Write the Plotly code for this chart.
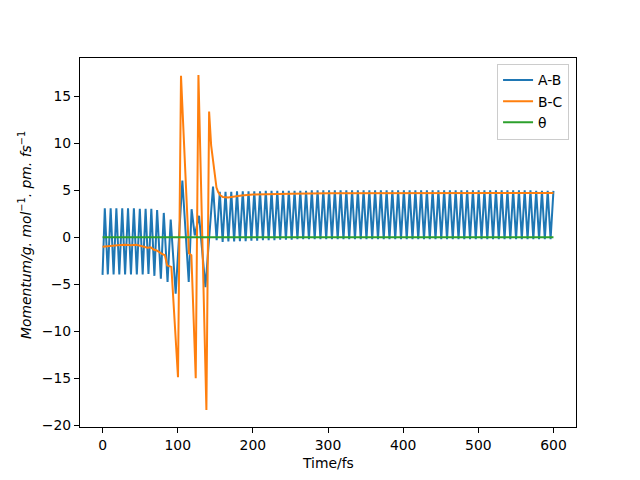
import numpy as np
import plotly.graph_objects as go

# A-B momentum: turning points up to ~156 fs (irregular spacing around the collision)
ab_t_early = [0, 3.0, 7.0, 10.8, 14.7, 18.4, 22.3, 26.2, 30.0, 33.9, 37.8, 41.7,
              45.6, 49.6, 53.4, 57.3, 61.1, 64.9, 69.0, 72.6, 77.6, 81.5, 86.5, 90.7,
              97.3, 106.2, 114.7, 118.5, 122.7, 128.4, 136.9, 147.0, 151.8, 156.0]
ab_v_early = [-4.0, 3.1, -3.95, 3.1, -3.95, 3.1, -3.95, 3.1, -3.95, 3.1, -3.95, 3.1,
              -3.95, 3.05, -3.95, 3.05, -3.9, 3.05, -4.1, 2.9, -4.4, 2.6, -4.75, 1.9,
              -6.0, 6.05, -4.75, 3.0, 0.2, 2.3, -5.3, 5.4, -0.3, 4.85]

# A-B after the collision: alternating trough / peak values, evenly spaced in time
ab_late_start = 159.8
ab_late_end = 600.0
ab_v_late = [
    -0.5, 4.85, -0.45, 4.85, -0.45, 4.9, -0.4, 4.9, -0.4, 4.9, -0.35, 4.9,
    -0.35, 4.9, -0.3, 4.95, -0.3, 4.95, -0.3, 4.95, -0.25, 4.95, -0.25, 4.95,
    -0.25, 4.95, -0.2, 4.95, -0.2, 4.95, -0.2, 5.0, -0.2, 5.0, -0.2, 5.0,
    -0.2, 5.0, -0.2, 5.0, -0.2, 5.0, -0.2, 5.0, -0.2, 5.0, -0.2, 5.0,
    -0.2, 5.0, -0.2, 5.0, -0.2, 5.0, -0.2, 5.0, -0.2, 5.0, -0.2, 5.0,
    -0.2, 5.0, -0.2, 5.0, -0.2, 5.0, -0.2, 5.0, -0.2, 5.0, -0.2, 5.0,
    -0.2, 5.0, -0.2, 5.0, -0.2, 5.0, -0.2, 5.0, -0.2, 5.0, -0.2, 5.0,
    -0.2, 5.0, -0.2, 5.0, -0.2, 5.0, -0.2, 5.0, -0.2, 5.0, -0.2, 5.0,
    -0.2, 5.0, -0.2, 5.0, -0.2, 5.0, -0.2, 5.0, -0.2, 5.0, -0.2, 5.0,
    -0.2, 4.95, -0.2, 4.95, -0.2, 4.95, -0.2, 4.95,
]

# B-C momentum
bc_t = [0, 10, 20, 30, 38, 45, 50, 55, 60, 64, 68, 72, 76, 80, 83, 86, 91.6,
        100.4, 104.4, 115.0, 118.2, 124.0, 127.6, 138.2, 141.8, 144.5, 151.6, 154.0,
        157.0, 160.0, 167.0, 175.0, 185.0, 200.0, 220.0, 250.0, 300.0, 400.0, 500.0, 600.0]
bc_v = [-1.0, -0.9, -0.85, -0.8, -0.85, -0.8, -0.9, -0.95, -1.1, -1.05, -1.3, -1.4,
        -1.65, -1.8, -1.9, -3.0, -3.15,
        -14.9, 17.2, -1.7, -1.9, -15.0, 17.3, -18.4, 13.4, 9.8, 5.3, 4.8,
        4.45, 4.3, 4.25, 4.35, 4.45, 4.55, 4.6, 4.65, 4.7, 4.72, 4.72, 4.72]

# theta
theta_t = [0, 600]
theta_v = [0.0, 0.0]

ab_t = list(ab_t_early) + list(np.linspace(ab_late_start, ab_late_end, len(ab_v_late)))
ab_v = ab_v_early + ab_v_late

font = "DejaVu Sans"
fig = go.Figure()
fig.add_trace(go.Scatter(x=ab_t, y=ab_v, mode="lines", name="A-B",
                         line=dict(color="#1f77b4", width=2)))
fig.add_trace(go.Scatter(x=bc_t, y=bc_v, mode="lines", name="B-C",
                         line=dict(color="#ff7f0e", width=2)))
fig.add_trace(go.Scatter(x=theta_t, y=theta_v, mode="lines", name="θ",
                         line=dict(color="#2ca02c", width=2)))

axis_style = dict(showline=True, linecolor="black", linewidth=1.1, mirror=True,
                  ticks="outside", ticklen=5, tickwidth=1.1, tickcolor="black",
                  showgrid=False, zeroline=False, automargin=False,
                  tickfont=dict(family=font, size=13.9, color="black"))

# the page body adds an 8px offset, so the figure is 8px smaller and margins shifted
fig.update_layout(
    width=632, height=472,
    margin=dict(l=72, r=64, t=50, b=53),
    paper_bgcolor="white", plot_bgcolor="white",
    font=dict(family=font, size=13.9, color="black"),
    showlegend=True,
    legend=dict(x=0.986, y=0.985, xanchor="right", yanchor="top",
                bgcolor="rgba(255,255,255,0.8)", bordercolor="#cccccc", borderwidth=1,
                font=dict(family=font, size=13.9)),
    xaxis=dict(range=[-30, 630], tickvals=[0, 100, 200, 300, 400, 500, 600], **axis_style),
    yaxis=dict(range=[-20.2, 19.1], tickvals=[-20, -15, -10, -5, 0, 5, 10, 15], **axis_style),
    annotations=[
        dict(text="Time/fs", xref="paper", yref="paper", x=0.5, y=-0.098,
             xanchor="center", yanchor="middle", showarrow=False,
             font=dict(family=font, size=13.9)),
        dict(text="<i>Momentum/g. mol</i><sup>−1</sup><i>. pm. fs</i><sup>−1</sup>",
             xref="paper", yref="paper", x=-0.111, y=0.52, textangle=-90,
             xanchor="center", yanchor="middle", showarrow=False,
             font=dict(family=font, size=13.9)),
    ],
)

fig.write_html("out.html")
